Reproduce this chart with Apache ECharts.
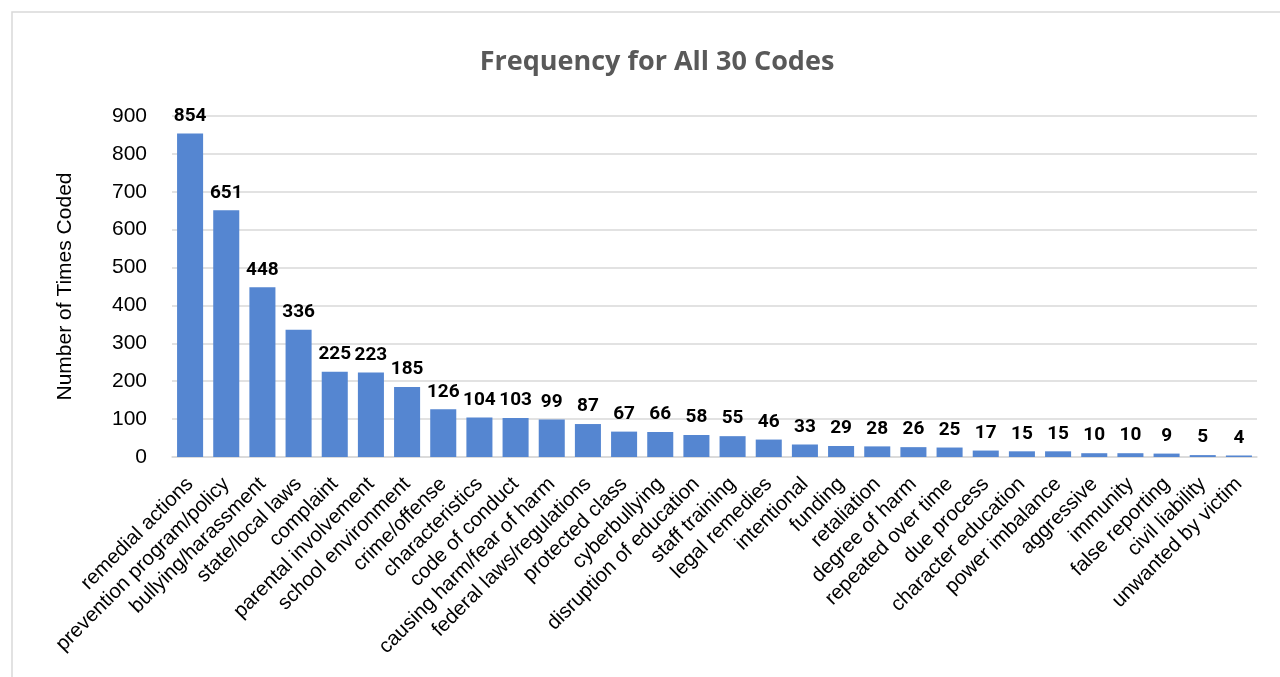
<!DOCTYPE html>
<html>
<head>
<meta charset="utf-8">
<script src="https://cdn.jsdelivr.net/npm/echarts@6/dist/echarts.min.js"></script>
<style>
  html, body { margin: 0; padding: 0; background: #fff; }
  #chart { width: 1280px; height: 677px; }
</style>
</head>
<body>
<div id="chart"></div>
<script>
// Code names, in descending order of frequency
const codes = [
  'remedial actions', 'prevention program/policy', 'bullying/harassment', 'state/local laws',
  'complaint', 'parental involvement', 'school environment', 'crime/offense',
  'characteristics', 'code of conduct', 'causing harm/fear of harm', 'federal laws/regulations',
  'protected class', 'cyberbullying', 'disruption of education', 'staff training',
  'legal remedies', 'intentional', 'funding', 'retaliation', 'degree of harm',
  'repeated over time', 'due process', 'character education', 'power imbalance',
  'aggressive', 'immunity', 'false reporting', 'civil liability', 'unwanted by victim'
];

// Number of times each code was applied
const timesCoded = [
  854, 651, 448, 336, 225, 223, 185, 126, 104, 103, 99, 87, 67, 66, 58, 55,
  46, 33, 29, 28, 26, 25, 17, 15, 15, 10, 10, 9, 5, 4
];

const chart = echarts.init(document.getElementById('chart'), null, { renderer: 'canvas' });

chart.setOption({
  backgroundColor: '#ffffff',
  animation: false,
  graphic: [{
    type: 'rect',
    shape: { x: 12, y: 12, width: 1300, height: 700 },
    style: { fill: 'none', stroke: '#d9d9d9', lineWidth: 1.5 },
    silent: true
  }],
  title: {
    text: 'Frequency for All 30 Codes',
    left: 652,
    textAlign: 'center',
    top: 44,
    textStyle: {
      fontFamily: 'Open Sans',
      fontWeight: 'bold',
      fontSize: 27,
      color: '#595959'
    }
  },
  grid: { left: 172, right: 23, top: 116, bottom: 220, containLabel: false },
  xAxis: {
    type: 'category',
    data: codes,
    axisLine: { lineStyle: { color: '#d9d9d9', width: 1.5 } },
    axisTick: { show: false },
    axisLabel: {
      interval: 0,
      rotate: 45,
      margin: 24,
      fontFamily: 'Liberation Sans',
      fontSize: 20.5,
      color: '#000000'
    }
  },
  yAxis: {
    type: 'value',
    min: 0,
    max: 900,
    interval: 100,
    name: 'Number of Times Coded',
    nameLocation: 'middle',
    nameGap: 96,
    nameTextStyle: {
      fontFamily: 'Liberation Sans',
      fontSize: 21,
      color: '#000000'
    },
    axisLine: { show: false },
    axisTick: { show: false },
    axisLabel: {
      margin: 25,
      fontFamily: 'Liberation Sans',
      fontSize: 21,
      color: '#000000'
    },
    splitLine: { lineStyle: { color: '#d9d9d9', width: 1.5 } }
  },
  series: [{
    type: 'bar',
    data: timesCoded,
    barCategoryGap: '28%',
    itemStyle: { color: '#5586d1' },
    label: {
      show: true,
      position: 'top',
      distance: 8,
      fontFamily: 'Roboto',
      fontWeight: 'bold',
      fontSize: 19,
      color: '#000000'
    }
  }]
});
</script>
</body>
</html>
